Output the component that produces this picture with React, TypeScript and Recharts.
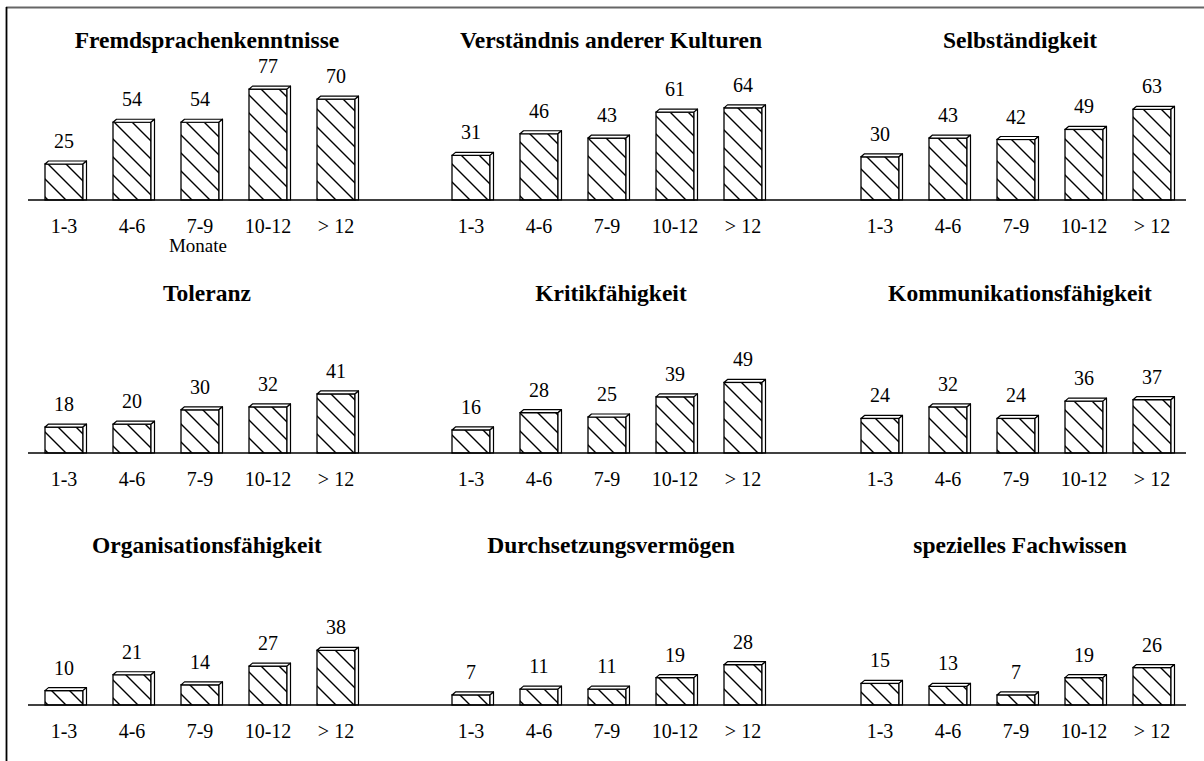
import React from 'react';
import { BarChart, Bar, XAxis, YAxis, LabelList } from 'recharts';

const categories = ['1-3', '4-6', '7-9', '10-12', '> 12'];

const fremdsprachen = [25, 54, 54, 77, 70];
const verstaendnis = [31, 46, 43, 61, 64];
const selbstaendigkeit = [30, 43, 42, 49, 63];
const toleranz = [18, 20, 30, 32, 41];
const kritik = [16, 28, 25, 39, 49];
const kommunikation = [24, 32, 24, 36, 37];
const organisation = [10, 21, 14, 27, 38];
const durchsetzung = [7, 11, 11, 19, 28];
const fachwissen = [15, 13, 7, 19, 26];

const titles = [
  'Fremdsprachenkenntnisse', 'Verständnis anderer Kulturen', 'Selbständigkeit',
  'Toleranz', 'Kritikfähigkeit', 'Kommunikationsfähigkeit',
  'Organisationsfähigkeit', 'Durchsetzungsvermögen', 'spezielles Fachwissen',
];
const seriesList = [
  fremdsprachen, verstaendnis, selbstaendigkeit,
  toleranz, kritik, kommunikation,
  organisation, durchsetzung, fachwissen,
];
const unitLabel = 'Monate';

const FONT = "'Liberation Serif', 'Times New Roman', serif";
const ROW_BASE = [200, 453, 705];
const COL_LEFT = [28, 414, 800];
const COL_PAD = [
  { left: 2, right: 44 },
  { left: 23, right: 23 },
  { left: 46, right: 0 },
];
const TITLE_X = [207, 611, 1020];
const PANEL_W = 386;
const PLOT_H = 144;
const TOP_M = 20;
const AXIS_H = 62;

const Bar3D = (props: any) => {
  const { x, y, width, height } = props;
  if (height == null || width == null) return null;
  const dx = 3.5;
  const dy = 3;
  return (
    <g>
      <rect x={x} y={y} width={width} height={height} fill="#fff" />
      <rect x={x} y={y} width={width} height={height} fill="url(#hatch)" stroke="#000" strokeWidth={1.3} />
      <polygon
        points={`${x},${y} ${x + dx},${y - dy} ${x + width + dx},${y - dy} ${x + width},${y}`}
        fill="#fff" stroke="#000" strokeWidth={1.2} strokeLinejoin="round"
      />
      <polygon
        points={`${x + width},${y} ${x + width + dx},${y - dy} ${x + width + dx},${y + height} ${x + width},${y + height}`}
        fill="#fff" stroke="#000" strokeWidth={1.2} strokeLinejoin="round"
      />
    </g>
  );
};

const ValueLabel = (props: any) => {
  const { x, y, width, value } = props;
  return (
    <text x={x + width / 2} y={y - 16} textAnchor="middle" fontFamily={FONT} fontSize={20} fill="#000">
      {value}
    </text>
  );
};

const makeTick = (showUnit: boolean) => (props: any) => {
  const { x, y, payload } = props;
  return (
    <g>
      <text x={x} y={y + 25} textAnchor="middle" fontFamily={FONT} fontSize={20} fill="#000">
        {payload.value}
      </text>
      {showUnit && payload.value === '7-9' ? (
        <text x={x - 2} y={y + 44} textAnchor="middle" fontFamily={FONT} fontSize={19} fill="#000">
          {unitLabel}
        </text>
      ) : null}
    </g>
  );
};

const Panel = ({ idx }: { idx: number }) => {
  const row = Math.floor(idx / 3);
  const col = idx % 3;
  const values = seriesList[idx];
  const data = categories.map((c, i) => ({ cat: c, v: values[i] }));
  const top = ROW_BASE[row] - PLOT_H - TOP_M;
  return (
    <div style={{ position: 'absolute', left: COL_LEFT[col], top, width: PANEL_W, height: TOP_M + PLOT_H + AXIS_H }}>
      <BarChart
        width={PANEL_W}
        height={TOP_M + PLOT_H + AXIS_H}
        data={data}
        margin={{ top: TOP_M, right: 0, bottom: 0, left: 0 }}
        style={{ overflow: 'visible' }}
      >
        <defs>
          <pattern id="hatch" patternUnits="userSpaceOnUse" width={18} height={18}>
            <path d="M0,0 L18,18 M-2,16 L2,20 M16,-2 L20,2" stroke="#000" strokeWidth={1.4} />
          </pattern>
        </defs>
        <XAxis
          dataKey="cat"
          height={AXIS_H}
          interval={0}
          tickLine={false}
          axisLine={{ stroke: '#000', strokeWidth: 1.5 }}
          padding={COL_PAD[col]}
          tick={makeTick(idx === 0)}
        />
        <YAxis hide domain={[0, 100]} />
        <Bar dataKey="v" barSize={38} shape={Bar3D} isAnimationActive={false}>
          <LabelList dataKey="v" content={ValueLabel} />
        </Bar>
      </BarChart>
    </div>
  );
};

export default function App() {
  return (
    <div style={{ position: 'absolute', left: 0, top: 0, width: 1204, height: 761, background: '#fff', overflow: 'hidden' }}>
      {titles.map((_, i) => (
        <Panel key={i} idx={i} />
      ))}
      <svg width={1204} height={761} style={{ position: 'absolute', left: 0, top: 0, pointerEvents: 'none' }}>
        <line x1={6} y1={7.5} x2={1204} y2={7.5} stroke="#666" strokeWidth={2} />
        <line x1={6.5} y1={7} x2={6.5} y2={761} stroke="#000" strokeWidth={1.8} />
        {titles.map((t, i) => {
          const row = Math.floor(i / 3);
          const col = i % 3;
          return (
            <text
              key={t}
              x={TITLE_X[col]}
              y={ROW_BASE[row] - 152}
              textAnchor="middle"
              fontFamily={FONT}
              fontWeight="bold"
              fontSize={23.5}
              fill="#000"
            >
              {t}
            </text>
          );
        })}
      </svg>
    </div>
  );
}
